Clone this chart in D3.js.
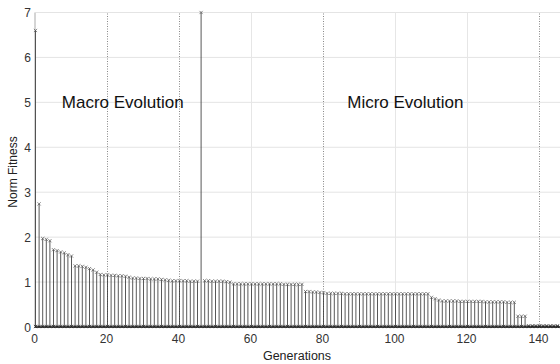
<!DOCTYPE html>
<html><head><meta charset="utf-8">
<script src="https://cdn.jsdelivr.net/npm/d3@7"></script>
<style>body{margin:0;background:#fff}svg{display:block}text{font-family:"Liberation Sans",Arial,sans-serif}</style>
</head><body><svg id="c" width="560" height="364"></svg>
<script>
const generations = d3.range(0, 146);
const fitness = [
6.6, 2.74, 1.97, 1.95, 1.92, 1.72, 1.70, 1.67, 1.65, 1.61,
1.58, 1.36, 1.36, 1.35, 1.33, 1.30, 1.27, 1.22, 1.17, 1.16,
1.16, 1.15, 1.15, 1.14, 1.14, 1.13, 1.11, 1.09, 1.09, 1.08,
1.08, 1.08, 1.07, 1.07, 1.07, 1.06, 1.05, 1.04, 1.03, 1.03,
1.03, 1.03, 1.03, 1.02, 1.02, 1.02, 7.0, 1.03, 1.03, 1.02,
1.02, 1.02, 1.02, 1.01, 1.00, 0.96, 0.96, 0.96, 0.96, 0.96,
0.96, 0.96, 0.96, 0.96, 0.96, 0.96, 0.96, 0.96, 0.96, 0.95,
0.95, 0.95, 0.95, 0.95, 0.95, 0.79, 0.79, 0.78, 0.78, 0.77,
0.76, 0.75, 0.75, 0.75, 0.75, 0.75, 0.74, 0.74, 0.74, 0.74,
0.74, 0.74, 0.74, 0.74, 0.74, 0.74, 0.74, 0.74, 0.74, 0.74,
0.74, 0.74, 0.74, 0.74, 0.74, 0.74, 0.74, 0.74, 0.74, 0.74,
0.66, 0.63, 0.60, 0.58, 0.58, 0.58, 0.58, 0.58, 0.57, 0.57,
0.57, 0.57, 0.57, 0.57, 0.57, 0.56, 0.56, 0.56, 0.56, 0.56,
0.56, 0.55, 0.55, 0.55, 0.24, 0.24, 0.24, 0.03, 0.03, 0.03,
0.03, 0.03, 0.03, 0.03, 0.03, 0.03];
const xTicks = [0, 20, 40, 60, 80, 100, 120, 140];
const yTicks = [0, 1, 2, 3, 4, 5, 6, 7];
const dottedGrid = [20, 40, 80, 140];
const annotations = [{text: "Macro Evolution", g: 7.3, v: 5.0}, {text: "Micro Evolution", g: 86.6, v: 5.0}];

const svg = d3.select("#c");
const x = d3.scaleLinear().domain([0, 145]).range([35.5, 557.5]);
const y = d3.scaleLinear().domain([0, 7]).range([327, 12.5]);

// horizontal grid
svg.append("g").selectAll("line").data(yTicks.slice(1)).join("line")
  .attr("x1", x(0)).attr("x2", 560).attr("y1", d => y(d)).attr("y2", d => y(d))
  .attr("stroke", "#e4e4e4").attr("stroke-width", 1);
// vertical grid
svg.append("g").selectAll("line").data(xTicks.slice(1)).join("line")
  .attr("x1", d => x(d)).attr("x2", d => x(d)).attr("y1", y(0)).attr("y2", y(7))
  .attr("stroke", d => dottedGrid.includes(d) ? "#888" : "#e6e6e6")
  .attr("stroke-dasharray", d => dottedGrid.includes(d) ? "1,1.5" : null)
  .attr("stroke-width", 1);

// left axis line
svg.append("line").attr("x1", 35).attr("x2", 35).attr("y1", y(7)).attr("y2", y(0))
  .attr("stroke", "#aaa");

// stems
const pts = generations.map((g, i) => ({g, v: fitness[i]}));
svg.append("g").selectAll("line").data(pts).join("line")
  .attr("x1", d => x(d.g)).attr("x2", d => x(d.g))
  .attr("y1", y(0)).attr("y2", d => y(d.v))
  .attr("stroke", "#3a3a3a").attr("stroke-width", 0.85);

// markers on top
const sym = d3.symbol().type(d3.symbolTimes).size(8);
svg.append("g").selectAll("path").data(pts).join("path")
  .attr("d", sym).attr("transform", d => `translate(${x(d.g)},${y(d.v)})`)
  .attr("fill", "none").attr("stroke", "#555").attr("stroke-width", 0.7);

// baseline
svg.append("line").attr("x1", 35).attr("x2", 560).attr("y1", y(0)).attr("y2", y(0))
  .attr("stroke", "#111").attr("stroke-width", 1.6);
svg.append("g").selectAll("path").data(pts).join("path")
  .attr("d", sym).attr("transform", d => `translate(${x(d.g)},${y(0) - 0.5})`)
  .attr("fill", "none").attr("stroke", "#222").attr("stroke-width", 0.8);

// tick labels
svg.append("g").selectAll("text").data(yTicks).join("text")
  .attr("x", 31).attr("y", d => y(d) + 4.5).attr("text-anchor", "end")
  .attr("font-size", 12).attr("fill", "#333").text(d => d);
svg.append("g").selectAll("text").data(xTicks).join("text")
  .attr("x", d => x(d) - 1).attr("y", 343).attr("text-anchor", "middle")
  .attr("font-size", 12).attr("fill", "#333").text(d => d);

// axis titles
svg.append("text").attr("x", 297).attr("y", 359.5).attr("text-anchor", "middle")
  .attr("font-size", 12.5).attr("fill", "#222").text("Generations");
svg.append("text").attr("transform", "translate(17,172) rotate(-90)").attr("text-anchor", "middle")
  .attr("font-size", 12).attr("fill", "#222").text("Norm Fitness");

// annotations
svg.append("g").selectAll("text").data(annotations).join("text")
  .attr("x", d => x(d.g)).attr("y", d => y(d.v) + 6)
  .attr("font-size", 17).attr("fill", "#111").text(d => d.text);
</script></body></html>
